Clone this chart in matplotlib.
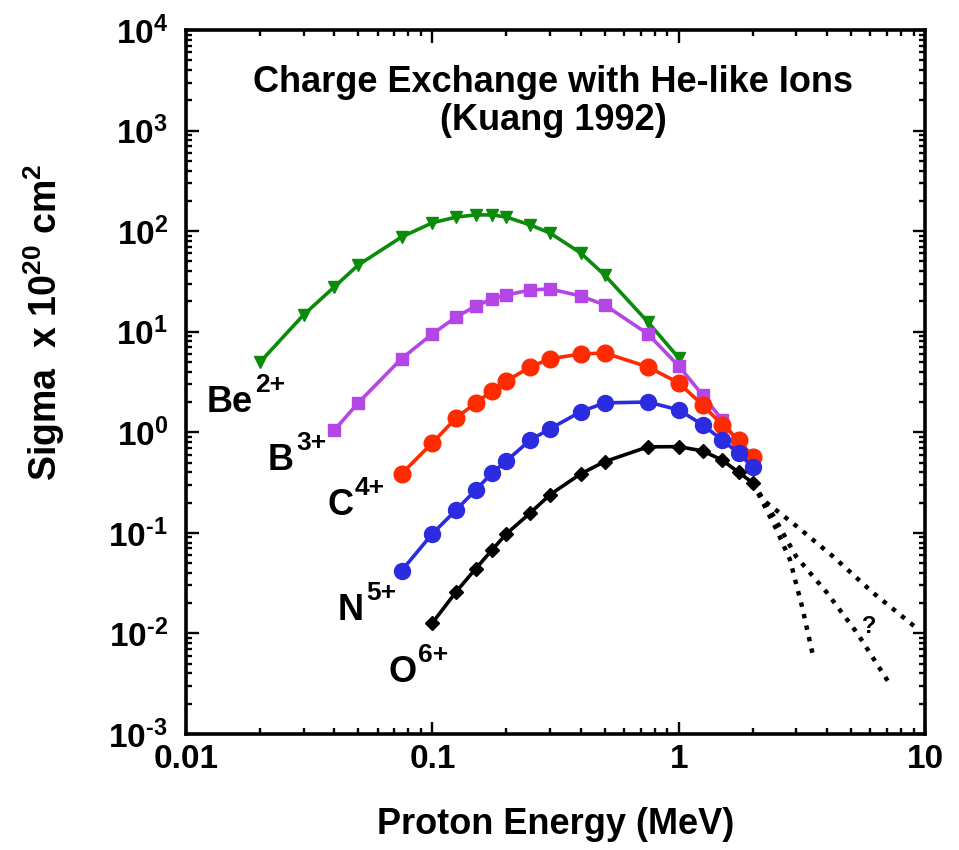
import matplotlib
matplotlib.use("Agg")
import matplotlib.pyplot as plt
from matplotlib.ticker import FixedLocator, LogLocator, NullFormatter

plt.rcParams['font.family'] = ['Liberation Sans', 'DejaVu Sans']
plt.rcParams['font.weight'] = 'bold'
plt.rcParams['mathtext.fontset'] = 'custom'
plt.rcParams['mathtext.rm'] = 'Liberation Sans:bold'
plt.rcParams['mathtext.it'] = 'Liberation Sans:bold'
plt.rcParams['mathtext.bf'] = 'Liberation Sans:bold'
plt.rcParams['mathtext.sf'] = 'Liberation Sans:bold'

# proton energies (MeV)
energy = [0.02, 0.03, 0.04, 0.05, 0.075, 0.1, 0.125, 0.15, 0.175, 0.2,
          0.25, 0.3, 0.4, 0.5, 0.75, 1.0, 1.25, 1.5, 1.75, 2.0]

# cross sections (x 1e-20 cm^2)
be_e = energy[:16]
be_s = [5.0, 14.7, 27.9, 46, 87.5, 121, 138, 145, 145, 138,
        115, 96, 60.7, 36.7, 12.5, 5.5]

b_e = energy[2:19]
b_s = [1.05, 1.96, 5.4, 9.5, 14.0, 18.0, 21.2, 23.2, 26.0, 26.6,
       22.7, 18.5, 9.5, 4.57, 2.35, 1.33, 0.785]

c_e = energy[4:]
c_s = [0.386, 0.785, 1.39, 1.96, 2.58, 3.24, 4.47, 5.37, 6.0, 6.15,
       4.47, 3.1, 1.87, 1.19, 0.84, 0.57]

n_e = energy[4:]
n_s = [0.042, 0.098, 0.169, 0.267, 0.395, 0.52, 0.84, 1.08, 1.6, 1.96,
       2.0, 1.67, 1.19, 0.84, 0.62, 0.45]

o_e = energy[5:]
o_s = [0.0127, 0.026, 0.044, 0.068, 0.098, 0.158, 0.239, 0.386, 0.51,
       0.716, 0.72, 0.653, 0.53, 0.40, 0.314]

# dotted extrapolations beyond 2 MeV
ext1_e = [2.0, 2.5, 2.83, 3.17, 3.5]
ext1_s = [0.314, 0.107, 0.054, 0.0184, 0.0062]
ext2_e = [2.0, 2.35, 3.0, 4.0, 5.3, 7.1]
ext2_s = [0.314, 0.169, 0.058, 0.0254, 0.0101, 0.0033]
ext3_e = [2.0, 2.2, 3.03, 4.24, 6.15, 9.5]
ext3_s = [0.314, 0.213, 0.115, 0.058, 0.0254, 0.0107]

ion_names = ['Be', 'B', 'C', 'N', 'O']
ion_charges = ['2+', '3+', '4+', '5+', '6+']
xtick_vals = [0.01, 0.1, 1, 10]
xtick_text = ['0.01', '0.1', '1', '10']
ytick_vals = [1e-3, 1e-2, 1e-1, 1e0, 1e1, 1e2, 1e3, 1e4]
ytick_text = [r'$10^{\text{-3}}$', r'$10^{\text{-2}}$', r'$10^{\text{-1}}$',
              r'$10^{0}$', r'$10^{1}$', r'$10^{2}$', r'$10^{3}$', r'$10^{4}$']

fig = plt.figure(figsize=(9.59, 8.5), dpi=100)
ax = fig.add_axes([186 / 959, 1 - 734 / 850, 739 / 959, 704 / 850])

green = '#0a8c0a'
purple = '#b446e6'
red = '#ff2a00'
blue = '#2b2be0'

ax.plot(be_e, be_s, color=green, lw=2.6, marker='v', ms=9)
ax.plot(b_e, b_s, color=purple, lw=2.6, marker='s', ms=8)
ax.plot(c_e, c_s, color=red, lw=2.6, marker='o', ms=12)
ax.plot(n_e, n_s, color=blue, lw=2.6, marker='o', ms=11.5)
ax.plot(o_e, o_s, color='black', lw=2.6, marker='D', ms=7)
for xe, ys in [(ext1_e, ext1_s), (ext2_e, ext2_s), (ext3_e, ext3_s)]:
    ax.plot(xe, ys, color='black', lw=3.2, ls=':')

ax.set_xscale('log')
ax.set_yscale('log')
ax.set_xlim(0.01, 10)
ax.set_ylim(1e-3, 1e4)

ax.xaxis.set_major_locator(FixedLocator(xtick_vals))
ax.set_xticklabels(xtick_text)
ax.yaxis.set_major_locator(FixedLocator(ytick_vals))
ax.set_yticklabels(ytick_text)
ax.xaxis.set_minor_locator(LogLocator(base=10, subs=range(2, 10), numticks=20))
ax.yaxis.set_minor_locator(LogLocator(base=10, subs=range(2, 10), numticks=20))
ax.xaxis.set_minor_formatter(NullFormatter())
ax.yaxis.set_minor_formatter(NullFormatter())

ax.tick_params(which='both', direction='in', top=True, right=True, width=1.7)
ax.tick_params(which='major', length=9, labelsize=24)
ax.tick_params(which='minor', length=4.5)
ax.tick_params(axis='x', which='major', pad=7)
ax.tick_params(axis='y', which='major', pad=13)
for sp in ax.spines.values():
    sp.set_linewidth(2.6)

# ion labels with raised charge
label_pos = [(0.0284, 0.4574), (0.1110, 0.3750), (0.1908, 0.3111),
             (0.2057, 0.1619), (0.2734, 0.0739)]
for name, charge, (lx, ly) in zip(ion_names, ion_charges, label_pos):
    t = ax.text(lx, ly, name, transform=ax.transAxes, fontsize=26,
                ha='left', va='baseline')
    ax.annotate(charge, xy=(1, 1), xycoords=t, xytext=(1.5, -5),
                textcoords='offset points', fontsize=19,
                ha='left', va='baseline')
ax.text(0.915, 0.1435, '?', transform=ax.transAxes, fontsize=17,
        ha='left', va='baseline')

ax.text(0.4966, 0.950, 'Charge Exchange with He-like Ions\n(Kuang 1992)',
        transform=ax.transAxes, fontsize=26, ha='center', va='top',
        linespacing=1.12)

fig.text(556 / 959, 1 - 825 / 850, 'Proton Energy (MeV)', fontsize=26,
         ha='center', va='center')
fig.text(44 / 959, 1 - 322 / 850, r'Sigma  x 10$^{20}$ cm$^{2}$', fontsize=27,
         rotation=90, ha='center', va='center')

fig.savefig('out.png', dpi=100)
